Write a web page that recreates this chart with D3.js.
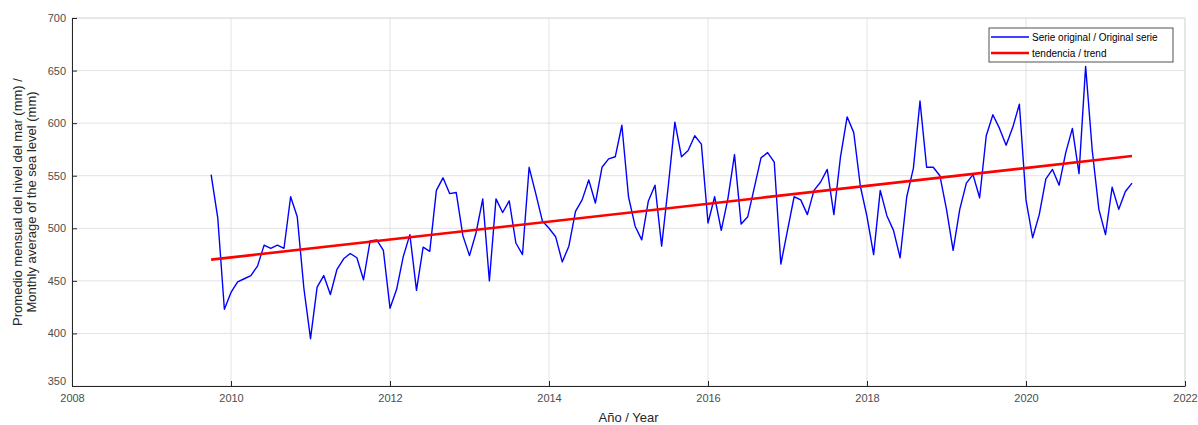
<!DOCTYPE html>
<html>
<head>
<meta charset="utf-8">
<script src="https://cdn.jsdelivr.net/npm/d3@7"></script>
<style>
  body { margin: 0; background: #fff; }
  svg { display: block; font-family: "Liberation Sans", Arial, sans-serif; }
</style>
</head>
<body>
<svg id="chart" width="1198" height="425"></svg>
<script>
// monthly series, Oct 2009 .. May 2021
const startYear = 2009.75;
const seaLevel = [
  551, 510, 423, 439, 449, 452, 455, 464, 484, 481, 484, 481,
  530, 511, 443, 395, 444, 455, 437, 461, 471, 476, 472, 451,
  488, 489, 479, 424, 442, 473, 494, 441, 482, 478, 536, 548,
  533, 534, 493, 474, 496, 528, 450, 528, 515, 526, 486, 475,
  558, 533, 507, 500, 492, 468, 483, 516, 527, 546, 524, 558,
  566, 568, 598, 530, 502, 489, 526, 541, 483, 540, 601, 568,
  574, 588, 580, 505, 530, 498, 528, 570, 504, 511, 539, 567,
  572, 563, 466, 498, 530, 527, 513, 536, 544, 556, 513, 568,
  606, 591, 540, 511, 475, 536, 512, 498, 472, 530, 557, 621,
  558, 558, 550, 518, 479, 518, 543, 551, 529, 588, 608, 595,
  579, 596, 618, 527, 491, 513, 547, 556, 541, 572, 595, 552,
  654, 574, 518, 494, 539, 518, 535, 543
];
const trendEnds = [470.2, 568.7];
const xTicks = [2008, 2010, 2012, 2014, 2016, 2018, 2020, 2022];
const yTicks = [350, 400, 450, 500, 550, 600, 650, 700];
const seriesNames = ["Serie original / Original serie", "tendencia / trend"];

const svg = d3.select("#chart");
const margin = { left: 72, right: 13, top: 18, bottom: 39 };
const W = 1198, H = 425;

const x = d3.scaleLinear().domain([2008, 2022]).range([margin.left, W - margin.right]);
const y = d3.scaleLinear().domain([350, 700]).range([H - margin.bottom, margin.top]);

const data = seaLevel.map((v, i) => ({ t: startYear + i / 12, v: v }));
const tEnd = data[data.length - 1].t;

// grid
const grid = svg.append("g");
grid.selectAll(".gx").data(xTicks).enter().append("line")
  .attr("x1", d => x(d)).attr("x2", d => x(d))
  .attr("y1", y(350)).attr("y2", y(700))
  .attr("stroke", "#e3e3e3").attr("stroke-width", 1);
grid.selectAll(".gy").data(yTicks).enter().append("line")
  .attr("x1", x(2008)).attr("x2", x(2022))
  .attr("y1", d => y(d)).attr("y2", d => y(d))
  .attr("stroke", "#e3e3e3").attr("stroke-width", 1);

// top/right frame (light)
svg.append("path")
  .attr("d", `M${x(2008)},${y(700)}H${x(2022)}V${y(350)}`)
  .attr("fill", "none").attr("stroke", "#dcdcdc");

// axes
const xAxis = d3.axisBottom(x).tickValues(xTicks).tickFormat(d3.format("d"))
  .tickSizeInner(-5).tickSizeOuter(0).tickPadding(8);
const yAxis = d3.axisLeft(y).tickValues(yTicks).tickFormat(d3.format("d"))
  .tickSizeInner(-5).tickSizeOuter(0).tickPadding(6);

const gx = svg.append("g").attr("transform", `translate(0,${y(350)})`).call(xAxis);
const gy = svg.append("g").attr("transform", `translate(${x(2008)},0)`).call(yAxis);
[gx, gy].forEach(g => {
  g.select(".domain").attr("stroke", "#262626");
  g.selectAll(".tick line").attr("stroke", "#262626");
  g.selectAll(".tick text").attr("fill", "#4d4d4d").style("font-size", "11px");
});
// first y label sits a bit higher, first x label a bit lower like in the source
gy.selectAll(".tick text").filter(d => d === 350).attr("dy", "-0.1em");

// series
const line = d3.line().x(d => x(d.t)).y(d => y(d.v));
svg.append("path").datum(data)
  .attr("d", line)
  .attr("fill", "none")
  .attr("stroke", "#0000ff")
  .attr("stroke-width", 1.4)
  .attr("stroke-linejoin", "round");

svg.append("line")
  .attr("x1", x(startYear)).attr("y1", y(trendEnds[0]))
  .attr("x2", x(tEnd)).attr("y2", y(trendEnds[1]))
  .attr("stroke", "#ff0000").attr("stroke-width", 2.6);

// axis titles
svg.append("text")
  .attr("x", (x(2008) + x(2022)) / 2).attr("y", 422)
  .attr("text-anchor", "middle")
  .attr("fill", "#262626").style("font-size", "13px")
  .text("Año / Year");

const yt = svg.append("text")
  .attr("transform", `translate(0,${(y(350) + y(700)) / 2}) rotate(-90)`)
  .attr("text-anchor", "middle")
  .attr("fill", "#262626").style("font-size", "13px");
yt.append("tspan").attr("x", 0).attr("y", 22).text("Promedio mensual del nivel del mar (mm) /");
yt.append("tspan").attr("x", 0).attr("y", 36).text("Monthly average of the sea level (mm)");

// legend
const lg = svg.append("g").attr("transform", "translate(989,28)");
lg.append("rect").attr("width", 184).attr("height", 34)
  .attr("fill", "#fff").attr("stroke", "#262626").attr("stroke-width", 0.8);
const colors = ["#0000ff", "#ff0000"];
const widths = [1.4, 2.6];
seriesNames.forEach((name, i) => {
  const yy = 9 + i * 16;
  lg.append("line").attr("x1", 2).attr("x2", 40).attr("y1", yy).attr("y2", yy)
    .attr("stroke", colors[i]).attr("stroke-width", widths[i]);
  lg.append("text").attr("x", 43).attr("y", yy).attr("dy", "0.35em")
    .attr("fill", "#000").style("font-size", "10px").text(name);
});
</script>
</body>
</html>
